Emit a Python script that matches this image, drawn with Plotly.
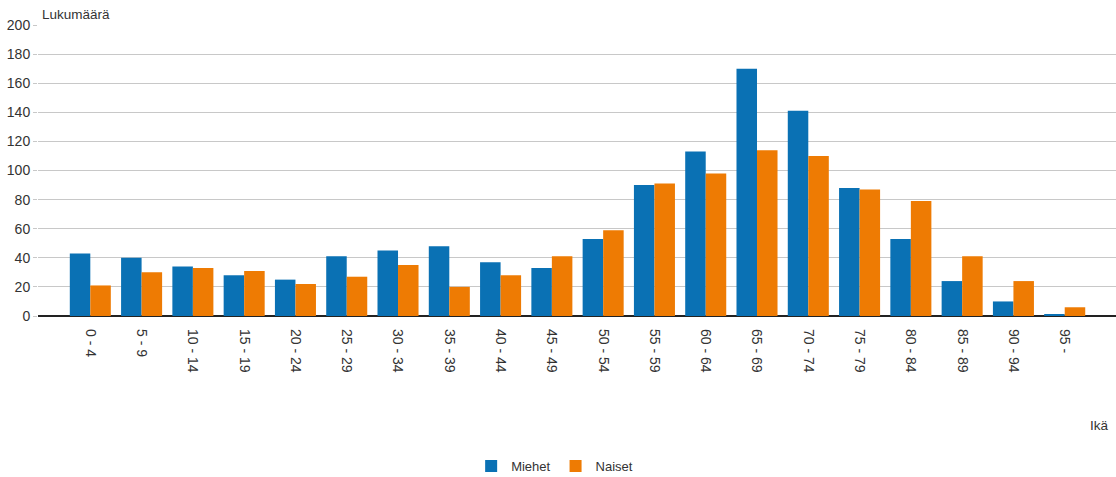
import plotly.graph_objects as go

categories = ["0 - 4", "5 - 9", "10 - 14", "15 - 19", "20 - 24", "25 - 29", "30 - 34",
              "35 - 39", "40 - 44", "45 - 49", "50 - 54", "55 - 59", "60 - 64", "65 - 69",
              "70 - 74", "75 - 79", "80 - 84", "85 - 89", "90 - 94", "95 -"]
miehet = [43, 40, 34, 28, 25, 41, 45, 48, 37, 33, 53, 90, 113, 170, 141, 88, 53, 24, 10, 1]
naiset = [21, 30, 33, 31, 22, 27, 35, 20, 28, 41, 59, 91, 98, 114, 110, 87, 79, 41, 24, 6]
y_ticks = [0, 20, 40, 60, 80, 100, 120, 140, 160, 180, 200]

BLUE = "#0a71b4"
ORANGE = "#ee7b03"
FONT = "Liberation Sans, Arial, sans-serif"
TXT = "#333333"

fig = go.Figure()
fig.add_trace(go.Bar(name="Miehet", x=categories, y=miehet, marker_color=BLUE,
                     marker_line_width=0))
fig.add_trace(go.Bar(name="Naiset", x=categories, y=naiset, marker_color=ORANGE,
                     marker_line_width=0))

fig.update_layout(
    width=1116, height=477,
    margin=dict(l=38, r=0, t=25, b=161, autoexpand=False),
    barmode="group", bargap=0.2, bargroupgap=0.0,
    plot_bgcolor="white", paper_bgcolor="white",
    font=dict(family=FONT, size=14, color=TXT),
    showlegend=True,
    legend=dict(orientation="h", xref="container", yref="container",
                x=0.497, xanchor="center", y=0.023, yanchor="middle",
                font=dict(size=13, color=TXT), itemwidth=30, traceorder="normal"),
    xaxis=dict(type="category", categoryorder="array", categoryarray=categories,
               range=[-1.02, 20.0], tickangle=90, showgrid=False, ticks="",
               showline=False, zeroline=False, ticklabelstandoff=12, automargin=False,
               tickfont=dict(size=14, color=TXT)),
    yaxis=dict(range=[0, 200], tickvals=y_ticks, showgrid=True, gridcolor="#c8c8c8",
               gridwidth=1, zeroline=True, zerolinecolor="#222222", zerolinewidth=2,
               ticks="outside", ticklen=4, tickcolor="#c8c8c8", automargin=False,
               tickfont=dict(size=14, color=TXT), showline=False),
    annotations=[
        dict(text="Lukumäärä", xref="paper", yref="paper", x=0.002, y=1.0,
             xanchor="left", yanchor="bottom", yshift=1, showarrow=False,
             font=dict(size=13.5, color=TXT)),
        dict(text="Ikä", xref="paper", yref="paper", x=0.995, y=-0.375,
             xanchor="right", yanchor="middle", showarrow=False,
             font=dict(size=13.5, color=TXT)),
    ],
)

fig.write_html("out.html", config={"displayModeBar": False},
               post_script="document.body.style.margin='0';")
